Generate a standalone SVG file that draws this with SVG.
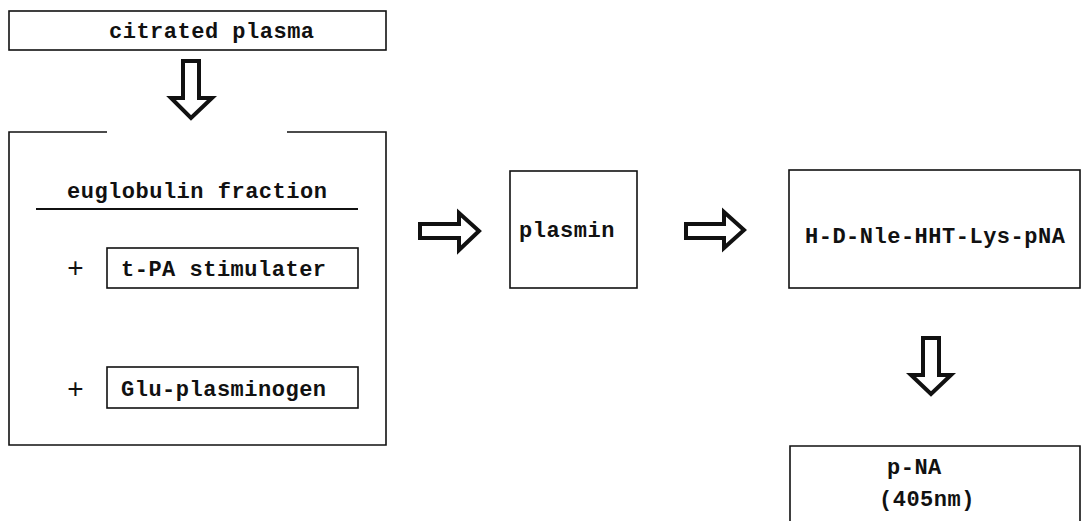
<svg xmlns="http://www.w3.org/2000/svg" width="1085" height="521" viewBox="0 0 1085 521">
<style>
.box{fill:none;stroke:#111;stroke-width:1.6}
.t{font-family:"Liberation Mono","Courier New",monospace;font-size:22px;font-weight:bold;letter-spacing:0.5px;fill:#111}
.plus{font-family:"Liberation Mono","Courier New",monospace;font-size:28px;fill:#111}
.arr{fill:#fff;stroke:#111;stroke-width:4;stroke-linejoin:miter}
</style>
<rect width="1085" height="521" fill="#fff"/>
<g id="citrated">
<rect class="box" x="9" y="11" width="377" height="39"/>
<text class="t" x="109" y="38">citrated plasma</text>
</g>
<g id="euglobulin">
<path class="box" d="M107,132 H9 V445 H386 V132 H287"/>
<text class="t" x="67" y="198">euglobulin fraction</text>
<line x1="36" y1="209" x2="358" y2="209" stroke="#111" stroke-width="2"/>
<text class="plus" x="75.5" y="277" text-anchor="middle">+</text>
<text class="plus" x="75.5" y="398" text-anchor="middle">+</text>
</g>
<g id="tpa">
<rect class="box" x="107" y="248" width="251" height="40"/>
<text class="t" x="121" y="276">t-PA stimulater</text>
</g>
<g id="glu">
<rect class="box" x="107" y="367" width="251" height="41"/>
<text class="t" x="121" y="396">Glu-plasminogen</text>
</g>
<g id="plasmin">
<rect class="box" x="510" y="171" width="127" height="117"/>
<text class="t" x="519" y="237">plasmin</text>
</g>
<g id="substrate">
<rect class="box" x="789" y="170" width="291" height="118"/>
<text class="t" x="805" y="243">H-D-Nle-HHT-Lys-pNA</text>
</g>
<g id="pna">
<path class="box" d="M790,530 V446 H1080 V530"/>
<text class="t" x="887" y="474">p-NA</text>
<text class="t" x="879" y="506">(405nm)</text>
</g>
<g id="connectors">
<path class="arr" d="M183,61 H199 V98 H212 L191,118 L171,98 H183 Z"/>
<path class="arr" d="M420,224 H459 V213 L479,231 L459,250 V238 H420 Z"/>
<path class="arr" d="M686,224 H724 V212 L744,230 L724,248 V238 H686 Z"/>
<path class="arr" d="M923,338 H939 V375 H951 L931,394 L911,375 H923 Z"/>
</g>
</svg>
